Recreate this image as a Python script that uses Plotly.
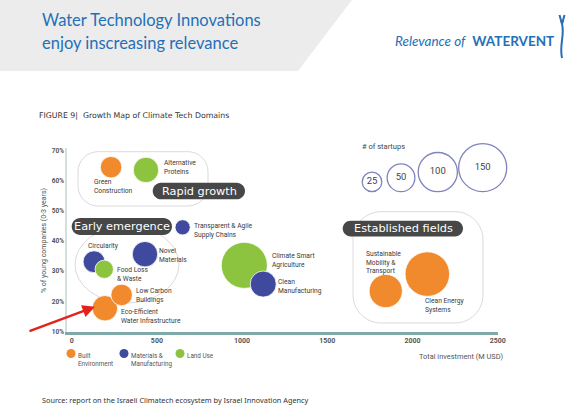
import plotly.graph_objects as go

# ---------------- data ----------------
domains = ["Green Construction", "Alternative Proteins", "Transparent & Agile Supply Chains",
           "Circularity", "Food Loss & Waste", "Novel Materials",
           "Eco-Efficient Water Infrastructure", "Low Carbon Buildings",
           "Climate Smart Agriculture", "Clean Manufacturing",
           "Sustainable Mobility & Transport", "Clean Energy Systems"]
domain_labels = ["Green<br>Construction", "Alternative<br>Proteins", "Transparent & Agile<br>Supply Chains",
                 "Circularity", "Food Loss<br>& Waste", "Novel<br>Materials",
                 "Eco-Efficient<br>Water Infrastructure", "Low Carbon<br>Buildings",
                 "Climate Smart<br>Agriculture", "Clean<br>Manufacturing",
                 "Sustainable<br>Mobility &<br>Transport", "Clean Energy<br>Systems"]
domain_category = ["Built Environment", "Land Use", "Materials & Manufacturing",
                   "Materials & Manufacturing", "Land Use", "Materials & Manufacturing",
                   "Built Environment", "Built Environment",
                   "Land Use", "Materials & Manufacturing",
                   "Built Environment", "Built Environment"]
total_investment = [231, 436, 651, 131, 191, 430, 195, 293, 1013, 1124, 1843, 2087]   # M USD
young_share = [64.4, 63.5, 44.5, 33.1, 30.6, 35.6, 17.7, 22.1, 31.9, 25.7, 23.4, 29.0]  # %
startups = [30, 42, 15, 31, 22, 42, 42, 30, 138, 44, 72, 129]

categories = ["Built Environment", "Materials & Manufacturing", "Land Use"]
category_labels = ["Built<br>Environment", "Materials &<br>Manufacturing", "Land Use"]
size_legend_values = [25, 50, 100, 150]
x_ticks = [0, 500, 1000, 1500, 2000, 2500]
y_ticks = [10, 20, 30, 40, 50, 60, 70]
y_tick_labels = ["10%", "20%", "30%", "40%", "50%", "60%", "70%"]

# ---------------- style ----------------
cat_colors = {"Built Environment": "#f08a2c",
              "Materials & Manufacturing": "#3f4a9e",
              "Land Use": "#8dc43f"}
SIZEREF = 0.13
W, H = 582, 412
L, R, T, B = 67, 498, 148, 332
FONT = "Roboto"
TXT = "#3a3a3a"

def pxx(x):
    return (x - L) / (R - L)

def pxy(y):
    return (B - y) / (B - T)

def rrect(x0, y0, x1, y1, r):
    k = 0.45 * r
    pts = [
        f"M {pxx(x0 + r)},{pxy(y0)}",
        f"L {pxx(x1 - r)},{pxy(y0)}",
        f"C {pxx(x1 - k)},{pxy(y0)} {pxx(x1)},{pxy(y0 + k)} {pxx(x1)},{pxy(y0 + r)}",
        f"L {pxx(x1)},{pxy(y1 - r)}",
        f"C {pxx(x1)},{pxy(y1 - k)} {pxx(x1 - k)},{pxy(y1)} {pxx(x1 - r)},{pxy(y1)}",
        f"L {pxx(x0 + r)},{pxy(y1)}",
        f"C {pxx(x0 + k)},{pxy(y1)} {pxx(x0)},{pxy(y1 - k)} {pxx(x0)},{pxy(y1 - r)}",
        f"L {pxx(x0)},{pxy(y0 + r)}",
        f"C {pxx(x0)},{pxy(y0 + k)} {pxx(x0 + k)},{pxy(y0)} {pxx(x0 + r)},{pxy(y0)}",
        "Z",
    ]
    return " ".join(pts)

def ann(x, y, text, size=7, color=TXT, xanchor="left", yanchor="middle", family=FONT, **kw):
    d = dict(x=pxx(x), y=pxy(y), xref="paper", yref="paper", text=text, showarrow=False,
             xanchor=xanchor, yanchor=yanchor, align=xanchor if xanchor != "center" else "center",
             font=dict(size=size, color=color, family=family))
    d.update(kw)
    return d

fig = go.Figure()

# main bubbles (single trace, drawn in list order)
fig.add_trace(go.Scatter(
    x=total_investment, y=young_share, mode="markers",
    text=domains, hoverinfo="text",
    marker=dict(size=startups, sizemode="area", sizeref=SIZEREF,
                color=[cat_colors[c] for c in domain_category],
                opacity=1, line=dict(color="white", width=0.8)),
    showlegend=False, cliponaxis=False))

# size legend on a pixel overlay axis
size_legend_x = [372, 401, 437.8, 482.7]
size_r = [(v / (2 * SIZEREF)) ** 0.5 for v in size_legend_values]
fig.add_trace(go.Scatter(
    x=size_legend_x, y=[191.7 - r for r in size_r], xaxis="x2", yaxis="y2",
    mode="markers+text", text=[str(v) for v in size_legend_values],
    textposition="middle center", textfont=dict(size=9.5, color="#444", family=FONT),
    marker=dict(size=size_legend_values, sizemode="area", sizeref=SIZEREF,
                color="white", line=dict(color="#4b50a0", width=1.3)),
    showlegend=False, hoverinfo="skip", cliponaxis=False))

cat_x = [71, 124, 180]
cat_y = 353.5

shapes = []
# header grey band
shapes.append(dict(type="path", xref="paper", yref="paper", layer="below",
                   path=f"M {pxx(0)},{pxy(0)} L {pxx(352)},{pxy(0)} L {pxx(298)},{pxy(71)} L {pxx(0)},{pxy(71)} Z",
                   fillcolor="#ececec", line=dict(width=0)))
# group outlines
shapes.append(dict(type="path", xref="paper", yref="paper", layer="below",
                   path=rrect(78, 151.7, 208, 206, 20), line=dict(color="#dadada", width=1)))
shapes.append(dict(type="circle", xref="paper", yref="paper", layer="below",
                   x0=pxx(75), x1=pxx(179), y0=pxy(303), y1=pxy(226),
                   line=dict(color="#dadada", width=1)))
shapes.append(dict(type="path", xref="paper", yref="paper", layer="below",
                   path=rrect(353, 211.7, 483, 323, 28), line=dict(color="#dadada", width=1)))
# pills
for (x0, y0, x1, y1) in [(152.7, 182.7, 245, 199.3), (71.7, 218, 172, 235), (342.7, 220.7, 463, 236.5)]:
    shapes.append(dict(type="path", xref="paper", yref="paper", layer="above",
                       path=rrect(x0, y0, x1, y1, (y1 - y0) / 2),
                       fillcolor="#474747", line=dict(width=0)))
# category legend dots
for cx, cat in zip(cat_x, categories):
    shapes.append(dict(type="circle", xref="paper", yref="paper",
                       x0=pxx(cx - 4.5), x1=pxx(cx + 4.5), y0=pxy(cat_y + 4.5), y1=pxy(cat_y - 4.5),
                       fillcolor=cat_colors[cat], line=dict(width=0)))
# logo figure
shapes.append(dict(type="path", xref="paper", yref="paper",
                   path=(f"M {pxx(562)},{pxy(58)} C {pxx(559)},{pxy(45)} {pxx(565)},{pxy(35)} {pxx(562)},{pxy(24)} "
                         f"L {pxx(559.5)},{pxy(15)} M {pxx(562)},{pxy(24)} L {pxx(564.5)},{pxy(15)}"),
                   line=dict(color="#2a6db5", width=2)))
shapes.append(dict(type="circle", xref="paper", yref="paper",
                   x0=pxx(560.5), x1=pxx(563.5), y0=pxy(23), y1=pxy(20),
                   fillcolor="#2a6db5", line=dict(width=0)))

annotations = []
# header texts
annotations.append(ann(40, 20, "Water Technology Innovations", size=16.5, color="#2470b8", family="Lato"))
annotations.append(ann(40, 43, "enjoy inscreasing relevance", size=16.5, color="#2470b8", family="Lato"))
annotations.append(ann(556, 41, "<i>Relevance of</i>  <b>WATERVENT</b>", size=13.5, color="#2470b8",
                       family="Lato", xanchor="right"))
# figure title
annotations.append(ann(37, 115, "FIGURE 9|  Growth Map of Climate Tech Domains", size=7.8, color="#333",
                       family="DejaVu Sans"))
# axis titles
annotations.append(ann(44, 241, "% of young companies (0-3 years)", size=7, color="#555",
                       xanchor="center", textangle=-90))
annotations.append(ann(505, 356, "Total investment (M USD)", size=7.4, color="#555", xanchor="right"))
# pill labels
annotations.append(ann(199, 191, "Rapid growth", size=11.3, color="white", family="DejaVu Sans", xanchor="center"))
annotations.append(ann(122, 226.5, "Early emergence", size=11.3, color="white", family="DejaVu Sans", xanchor="center"))
annotations.append(ann(403, 228.6, "Established fields", size=11.3, color="white", family="DejaVu Sans", xanchor="center"))
# size legend title
annotations.append(ann(383, 146, "# of startups", size=7.5, color="#444", xanchor="center"))
# category legend labels
for cx, lab in zip(cat_x, category_labels):
    annotations.append(ann(cx + 5, 349.5, lab, size=6.3, color="#555", yanchor="top"))
# source
annotations.append(ann(40, 399.5, "Source: report on the Israeli Climatech ecosystem by Israel Innovation Agency",
                       size=7.3, color="#333", family="Noto Sans"))
# red arrow
annotations.append(dict(x=pxx(95), y=pxy(306.7), xref="paper", yref="paper", text="",
                        showarrow=True, arrowhead=2, arrowsize=1, arrowwidth=2.5, arrowcolor="#e3221c",
                        ax=-67, ay=25, standoff=0))
# bubble labels (offsets in px from bubble centre)
label_offsets = {
    "Green Construction": (-19, -19),
    "Alternative Proteins": (16, 2),
    "Transparent & Agile Supply Chains": (9, -3),
    "Circularity": (-8, 16),
    "Food Loss & Waste": (11, -5),
    "Novel Materials": (12, -1),
    "Eco-Efficient Water Infrastructure": (14, -8),
    "Low Carbon Buildings": (12, -1),
    "Climate Smart Agriculture": (26, 5),
    "Clean Manufacturing": (13, -2),
    "Sustainable Mobility & Transport": (-22, 29),
    "Clean Energy Systems": (-4, -31),
}
for name, lab, xv, yv in zip(domains, domain_labels, total_investment, young_share):
    dx, dy = label_offsets[name]
    annotations.append(dict(x=xv, y=yv, xref="x", yref="y", text=lab, showarrow=False,
                            xanchor="left", yanchor="middle", align="left",
                            xshift=dx, yshift=dy,
                            font=dict(size=6.7, color=TXT, family=FONT)))

fig.update_layout(
    width=W, height=H,
    margin=dict(l=L, r=W - R, t=T, b=H - B, pad=0),
    paper_bgcolor="white", plot_bgcolor="white",
    xaxis=dict(range=[-27.6, 2501.8], tickvals=x_ticks, showgrid=False, zeroline=False,
               showline=True, linecolor="#7fa8a9", linewidth=2.5, ticks="",
               tickfont=dict(size=7, color="#555", family=FONT, weight="bold")),
    yaxis=dict(range=[9.83, 70.76], tickvals=y_ticks, ticktext=y_tick_labels,
               showgrid=False, zeroline=False,
               showline=True, linecolor="#d3dfdf", linewidth=1.5, ticks="",
               tickfont=dict(size=6.5, color="#555", family=FONT, weight="bold")),
    xaxis2=dict(range=[L, R], overlaying="x", visible=False),
    yaxis2=dict(range=[B, T], overlaying="y", visible=False),
    shapes=shapes, annotations=annotations,
    font=dict(family=FONT),
)

fig.write_html("out.html", config={"displayModeBar": False},
               post_script="document.body.style.margin='0px';document.body.style.padding='0px';")
